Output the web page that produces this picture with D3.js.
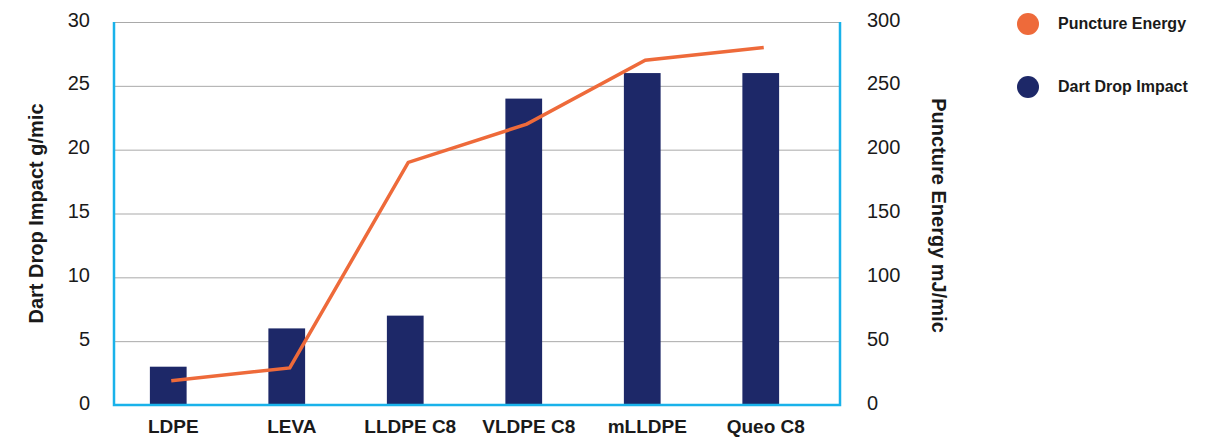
<!DOCTYPE html>
<html>
<head>
<meta charset="utf-8">
<script src="https://cdn.jsdelivr.net/npm/d3@7"></script>
<style>
  body { margin: 0; background: #fff; }
  svg text { font-family: "Liberation Sans", Arial, sans-serif; fill: #1a1a1a; }
</style>
</head>
<body>
<div id="chart"></div>
<script>
const categories = ["LDPE", "LEVA", "LLDPE C8", "VLDPE C8", "mLLDPE", "Queo C8"];
const dartDrop = [3, 6, 7, 24, 26, 26];
const punctureEnergy = [19, 29, 190, 220, 270, 280];
const leftTicks = [0, 5, 10, 15, 20, 25, 30];
const rightTicks = [0, 50, 100, 150, 200, 250, 300];
const legendNames = ["Puncture Energy", "Dart Drop Impact"];

const width = 1211;
const height = 443;
const plot = { left: 114, right: 840, top: 22, bottom: 405 };

const svg = d3.select("#chart")
    .append("svg")
    .attr("width", width)
    .attr("height", height);

const xScale = d3.scaleBand()
    .domain(categories)
    .range([109, 820])
    .paddingInner(0.69)
    .paddingOuter(0.345);

const yLeft = d3.scaleLinear().domain([0, 30]).range([plot.bottom, plot.top]);
const yRight = d3.scaleLinear().domain([0, 300]).range([plot.bottom, plot.top]);

// gridlines
svg.append("g")
    .attr("class", "grid")
    .selectAll("line")
    .data(leftTicks.filter(d => d > 0))
    .enter()
    .append("line")
    .attr("x1", plot.left)
    .attr("x2", plot.right)
    .attr("y1", d => yLeft(d) + 0.5)
    .attr("y2", d => yLeft(d) + 0.5)
    .attr("stroke", "#a9a9a9")
    .attr("stroke-width", 1);

// bars
svg.selectAll("rect.bar")
    .data(dartDrop)
    .enter()
    .append("rect")
    .attr("class", "bar")
    .attr("x", (d, i) => xScale(categories[i]))
    .attr("y", d => yLeft(d))
    .attr("width", xScale.bandwidth())
    .attr("height", d => plot.bottom - yLeft(d))
    .attr("fill", "#1d2868");

// frame: blue left, bottom, right
svg.append("path")
    .attr("d", `M${plot.left},${plot.top}V${plot.bottom}H${plot.right}V${plot.top}`)
    .attr("fill", "none")
    .attr("stroke", "#19b2ea")
    .attr("stroke-width", 2.5);

// puncture energy line
const line = d3.line()
    .x((d, i) => xScale(categories[i]) + xScale.bandwidth() / 2 + 3)
    .y(d => yRight(d));

svg.append("path")
    .datum(punctureEnergy)
    .attr("d", line)
    .attr("fill", "none")
    .attr("stroke", "#ee6a3a")
    .attr("stroke-width", 3.5);

// left axis
const leftAxis = svg.append("g")
    .attr("transform", `translate(${plot.left},0)`)
    .call(d3.axisLeft(yLeft).tickValues(leftTicks).tickSize(0).tickPadding(24));
leftAxis.select(".domain").remove();
leftAxis.selectAll("text").attr("font-size", 20).attr("font-family", null).attr("dy", "0.2em");

// right axis
const rightAxis = svg.append("g")
    .attr("transform", `translate(${plot.right},0)`)
    .call(d3.axisRight(yRight).tickValues(rightTicks).tickSize(0).tickPadding(27));
rightAxis.select(".domain").remove();
rightAxis.selectAll("text").attr("font-size", 20).attr("font-family", null).attr("dy", "0.2em");

// x axis labels
const xAxis = svg.append("g")
    .attr("transform", `translate(5,${plot.bottom})`)
    .call(d3.axisBottom(xScale).tickSize(0).tickPadding(15));
xAxis.select(".domain").remove();
xAxis.selectAll("text")
    .attr("font-size", 19)
    .attr("font-weight", "bold")
    .attr("font-family", null);

// axis titles
svg.append("text")
    .attr("transform", `translate(43,${(plot.top + plot.bottom) / 2}) rotate(-90)`)
    .attr("text-anchor", "middle")
    .attr("font-size", 20)
    .attr("font-weight", "bold")
    .text("Dart Drop Impact g/mic");

svg.append("text")
    .attr("transform", `translate(932,${(plot.top + plot.bottom) / 2 + 2}) rotate(90)`)
    .attr("text-anchor", "middle")
    .attr("font-size", 20)
    .attr("font-weight", "bold")
    .text("Puncture Energy mJ/mic");

// legend
const legendColors = ["#ee6a3a", "#1d2868"];
const legend = svg.append("g")
    .selectAll("g")
    .data(legendNames)
    .enter()
    .append("g")
    .attr("transform", (d, i) => `translate(1028,${24 + i * 63})`);

legend.append("circle")
    .attr("r", 11)
    .attr("fill", (d, i) => legendColors[i]);

legend.append("text")
    .attr("x", 30)
    .attr("y", 5)
    .attr("font-size", 16)
    .attr("font-weight", "bold")
    .text(d => d);
</script>
</body>
</html>
